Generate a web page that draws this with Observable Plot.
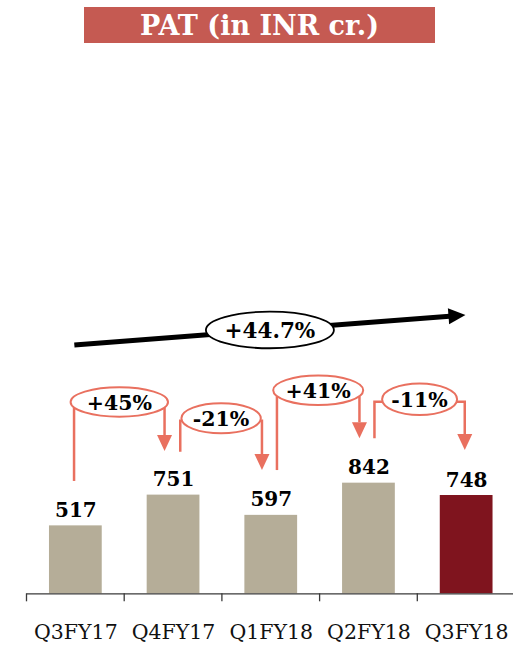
<!DOCTYPE html>
<html>
<head>
<meta charset="utf-8">
<script src="https://cdn.jsdelivr.net/npm/d3@7"></script>
<script src="https://cdn.jsdelivr.net/npm/@observablehq/plot@0.6"></script>
<style>
  html, body { margin: 0; padding: 0; background: #fff; overflow: hidden; }
  #wrap { position: relative; width: 513px; height: 645px; }
  #title {
    position: absolute; left: 84px; top: 7px; width: 351px; height: 36px;
    background: #c55a52; color: #fff; font: bold 27px "DejaVu Serif", serif;
    display: flex; align-items: center; justify-content: center; white-space: nowrap;
  }
  #chart { position: absolute; left: 0; top: 50px; }
</style>
</head>
<body>
<div id="wrap">
  <div id="title">PAT (in INR cr.)</div>
  <div id="chart"></div>
</div>
<script>
// ---- data ----
const quarters = ["Q3FY17", "Q4FY17", "Q1FY18", "Q2FY18", "Q3FY18"];
const pat = [517, 751, 597, 842, 748];
const highlightQuarter = "Q3FY18";
const qoqFrom = ["Q3FY17", "Q4FY17", "Q1FY18", "Q2FY18"];
const qoqTo = ["Q4FY17", "Q1FY18", "Q2FY18", "Q3FY18"];
const qoqLabels = ["+45%", "-21%", "+41%", "-11%"];
const yoyFrom = "Q3FY17";
const yoyTo = "Q3FY18";
const yoyLabel = "+44.7%";

const rows = quarters.map((q, i) => ({q, v: pat[i]}));

// ---- annotation layout (y levels in data units, offsets in px) ----
const qoqLayout = [
  {dxFrom: -1.3, dxTo: -8.5, yStart: 855, yMid: 1456, yTip: 1083, rx: 48.7, ry: 14.7},
  {dxFrom: 7.2, dxTo: -8.8, yStart: 1078, yMid: 1332, yTip: 938, rx: 39.7, ry: 15},
  {dxFrom: 6.2, dxTo: -9.0, yStart: 938, yMid: 1545, yTip: 1180, rx: 45, ry: 14.7},
  {dxFrom: 6.0, dxTo: -1.4, yStart: 1180, yMid: 1477, yTip: 1091, rx: 37.5, ry: 15.8}
];
const yoyLayout = {dxStart: -1, dxEnd: -0.7, yStart: 1890, yEnd: 2118, rx: 64, ry: 18.3};

const RED = "#e9705f";
const BAR = "#b5ad98";
const BAR_HI = "#7f141e";
const AXIS = "#3a3a3a";

function overlay(index, scales, values, dimensions) {
  const x = scales.x, y = scales.y;
  const bw = x.bandwidth(), step = x.step();
  const inner = step - bw;
  const cx = q => x(q) + bw / 2;
  const g = d3.create("svg:g");
  const y0 = y(0);

  // category boundary ticks
  const bounds = quarters.map(q => x(q) - inner / 2);
  bounds.forEach(b => {
    g.append("line").attr("x1", b).attr("x2", b).attr("y1", y0).attr("y2", y0 + 8)
      .attr("stroke", AXIS).attr("stroke-width", 1.3);
  });

  // quarter-on-quarter annotations
  qoqFrom.forEach((f, i) => {
    const L = qoqLayout[i];
    const xa = cx(f) + L.dxFrom, xb = cx(qoqTo[i]) + L.dxTo;
    const ex = (xa + xb) / 2, ey = y(L.yMid);
    const ya = y(L.yStart), yt = y(L.yTip);
    const ah = 16, aw = 7.5;
    function connect(px, fromY) {
      const d = Math.abs(px - ex);
      if (d < L.rx) {
        const yy = ey + L.ry * Math.sqrt(1 - (d / L.rx) ** 2);
        return [[px, fromY], [px, yy]];
      } else {
        const yy = ey + 2.5;
        const dy = (yy - ey) / L.ry;
        const xe = ex + Math.sign(px - ex) * L.rx * Math.sqrt(1 - dy * dy);
        return [[px, fromY], [px, yy], [xe, yy]];
      }
    }
    const left = connect(xa, ya);
    const right = connect(xb, yt - ah);
    const line = d3.line();
    g.append("path").attr("d", line(left)).attr("fill", "none")
      .attr("stroke", RED).attr("stroke-width", 2.5);
    g.append("path").attr("d", line(right)).attr("fill", "none")
      .attr("stroke", RED).attr("stroke-width", 2.5);
    g.append("path")
      .attr("d", `M${xb - aw},${yt - ah}L${xb + aw},${yt - ah}L${xb},${yt}Z`)
      .attr("fill", RED);
    g.append("ellipse").attr("cx", ex).attr("cy", ey).attr("rx", L.rx).attr("ry", L.ry)
      .attr("fill", "#fff").attr("stroke", RED).attr("stroke-width", 2);
    g.append("text").attr("x", ex).attr("y", ey).attr("dy", "0.38em")
      .attr("text-anchor", "middle").attr("font-weight", "bold").attr("font-size", 20.5)
      .attr("fill", "#000").text(qoqLabels[i]);
  });

  // year-on-year arrow
  {
    const x1 = cx(yoyFrom) + yoyLayout.dxStart, y1 = y(yoyLayout.yStart);
    const x2 = cx(yoyTo) + yoyLayout.dxEnd, y2 = y(yoyLayout.yEnd);
    const ang = Math.atan2(y2 - y1, x2 - x1);
    const ah = 17, aw = 8;
    const bx = x2 - ah * Math.cos(ang), by = y2 - ah * Math.sin(ang);
    const nx = -Math.sin(ang), ny = Math.cos(ang);
    g.append("line").attr("x1", x1).attr("y1", y1).attr("x2", bx + Math.cos(ang)).attr("y2", by + Math.sin(ang))
      .attr("stroke", "#000").attr("stroke-width", 5);
    g.append("path")
      .attr("d", `M${bx + nx * aw},${by + ny * aw}L${bx - nx * aw},${by - ny * aw}L${x2},${y2}Z`)
      .attr("fill", "#000");
    const mx = (x1 + x2) / 2, my = (y1 + y2) / 2;
    g.append("ellipse").attr("cx", mx).attr("cy", my).attr("rx", yoyLayout.rx).attr("ry", yoyLayout.ry)
      .attr("fill", "#fff").attr("stroke", "#000").attr("stroke-width", 1.8);
    g.append("text").attr("x", mx).attr("y", my).attr("dy", "0.38em")
      .attr("text-anchor", "middle").attr("font-weight", "bold").attr("font-size", 21.5)
      .attr("fill", "#000").text(yoyLabel);
  }
  return g.node();
}

const chart = Plot.plot({
  width: 515,
  height: 595,
  marginLeft: 26.5,
  marginRight: 0,
  marginTop: 17.7,
  marginBottom: 51.7,
  style: {fontFamily: "DejaVu Serif", fontSize: "20.5px", color: "#111", background: "transparent", maxWidth: "none", overflow: "visible"},
  x: {domain: quarters, paddingInner: 0.46, paddingOuter: 0.23, round: false, tickSize: 0, tickPadding: 31, label: null},
  y: {domain: [0, 4000], axis: null},
  color: {type: "identity"},
  marks: [
    Plot.barY(rows, {x: "q", y: "v", fill: d => d.q === highlightQuarter ? BAR_HI : BAR}),
    Plot.ruleY([0], {stroke: AXIS, strokeWidth: 1.3}),
    Plot.text(rows, {x: "q", y: "v", text: d => String(d.v), dy: -9, lineAnchor: "bottom",
      fontWeight: "bold", fontSize: 20, fill: "#000"}),
    overlay
  ]
});
document.getElementById("chart").appendChild(chart);
</script>
</body>
</html>
